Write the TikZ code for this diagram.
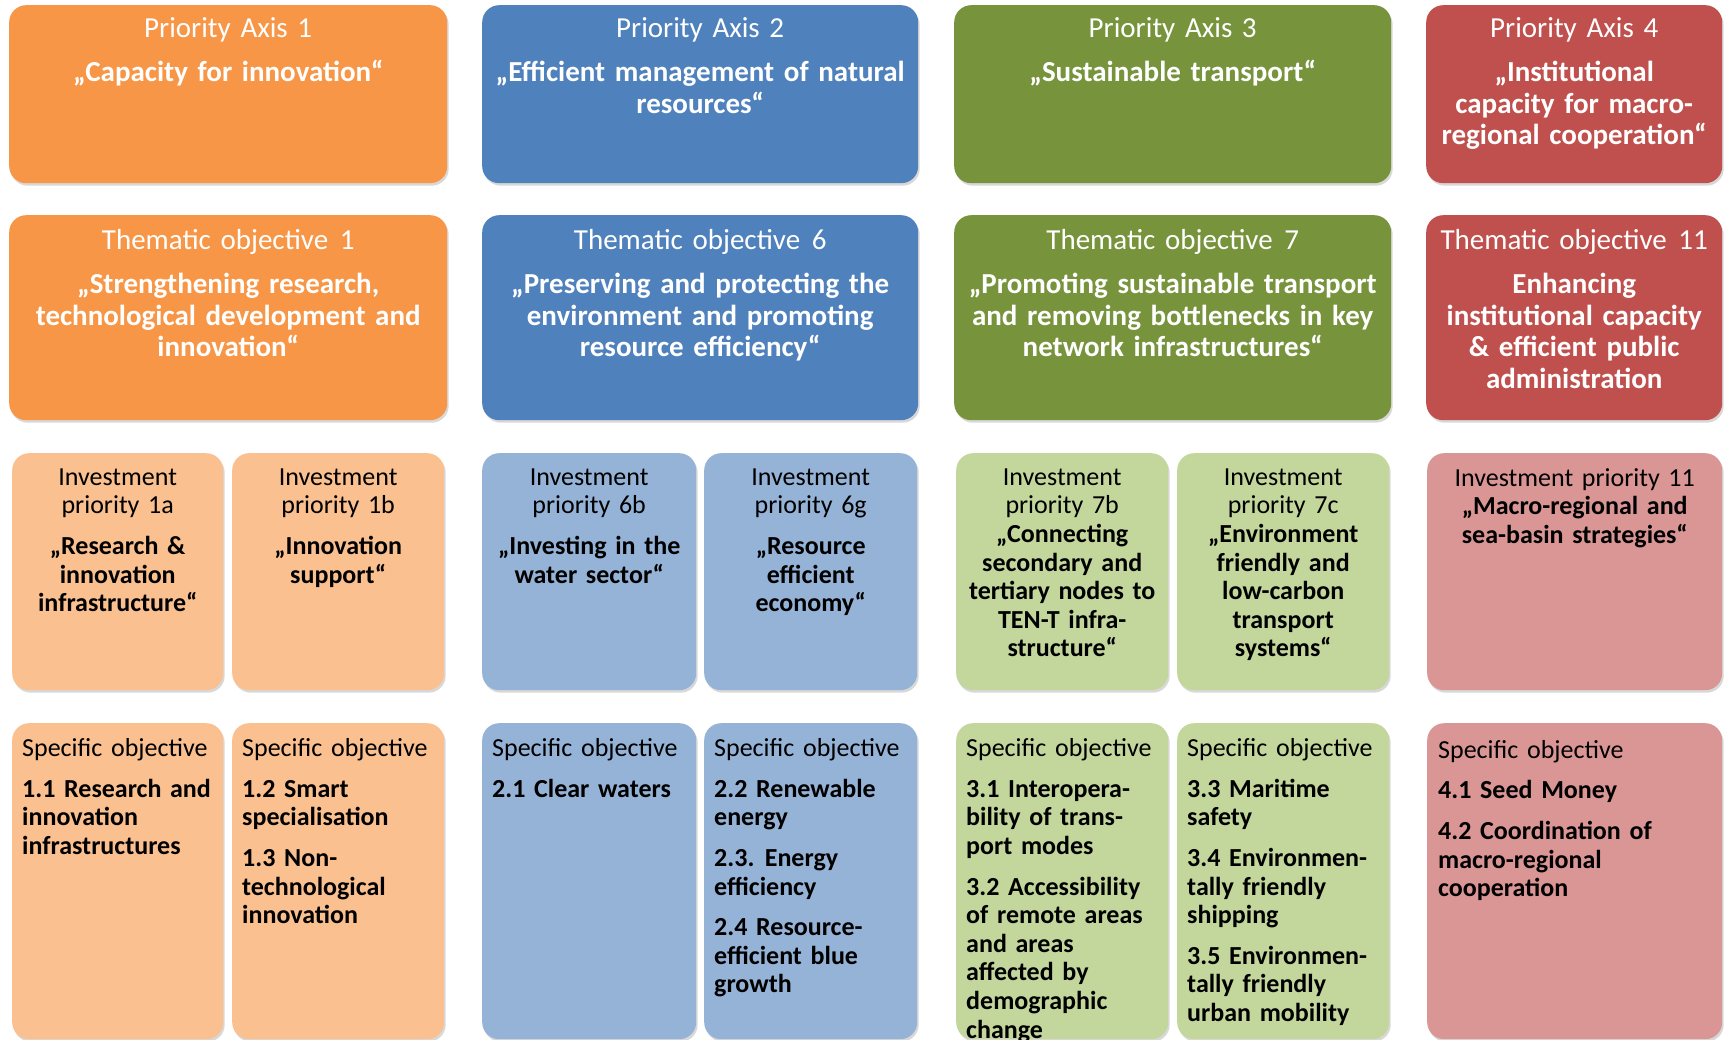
\documentclass[tikz,border=0pt]{standalone}
\usepackage{fontspec}
\setmainfont{Carlito}
\usetikzlibrary{shadows}
\definecolor{orD}{HTML}{F79646}
\definecolor{orL}{HTML}{FAC090}
\definecolor{blD}{HTML}{4F81BD}
\definecolor{blL}{HTML}{95B3D7}
\definecolor{grD}{HTML}{77933C}
\definecolor{grL}{HTML}{C3D69B}
\definecolor{rdD}{HTML}{C0504D}
\definecolor{rdL}{HTML}{D99694}
\newcommand\wsp{\hspace{0.4em}}
\tikzset{
  card/.style={anchor=north west, rounded corners=17pt, inner ysep=0pt,
    drop shadow={shadow xshift=1.5pt, shadow yshift=-2.5pt, opacity=0.3, fill=black!50}},
  dims/.style n args={5}{minimum width=#1pt, minimum height=#2pt, text height=#3pt, text depth=#4pt, text width=#5pt},
  headbox/.style={card, inner xsep=4pt, text=white, align=center, font=\fontsize{29}{31.6}\selectfont},
  ipbox/.style={card, inner xsep=4pt, text=black, align=center, font=\fontsize{26}{28.6}\selectfont},
  sobox/.style={card, inner xsep=10pt, text=black, align=left, font=\fontsize{26}{28.6}\selectfont},
}
\begin{document}
\begin{tikzpicture}[x=1pt,y=-1pt]
\fill[white] (0,0) rectangle (1727,1040);
\useasboundingbox (0,0) rectangle (1727,1040);

% Row 1: priority axes
\node[headbox, fill=orD, dims={438}{178}{32}{146}{430}] (pa1) at (9,5)
  {Priority Axis 1\\[13pt]\bfseries „Capacity for innovation“};
\node[headbox, fill=blD, dims={436}{178}{32}{146}{428}] (pa2) at (482,5)
  {Priority Axis 2\\[13pt]\bfseries „Efficient management of natural\\resources“};
\node[headbox, fill=grD, dims={437}{178}{32}{146}{429}] (pa3) at (954,5)
  {Priority Axis 3\\[13pt]\bfseries „Sustainable transport“};
\node[headbox, fill=rdD, dims={296}{178}{32}{146}{288}] (pa4) at (1426,5)
  {Priority Axis 4\\[13pt]\bfseries „Institutional\\capacity for macro-\\regional cooperation“};

% Row 2: thematic objectives
\node[headbox, fill=orD, dims={438}{205}{34}{171}{430}] (to1) at (9,215)
  {Thematic objective\wsp 1\\[13pt]\bfseries „Strengthening research,\\technological development and\\innovation“};
\node[headbox, fill=blD, dims={436}{205}{34}{171}{428}] (to6) at (482,215)
  {Thematic objective\wsp 6\\[13pt]\bfseries „Preserving and protecting the\\environment and promoting\\resource efficiency“};
\node[headbox, fill=grD, dims={437}{205}{34}{171}{429}] (to7) at (954,215)
  {Thematic objective\wsp 7\\[13pt]\bfseries „Promoting sustainable transport\\and\ removing bottlenecks in key\\network infrastructures“};
\node[headbox, fill=rdD, dims={296}{205}{34}{171}{288}] (to11) at (1426,215)
  {Thematic objective\wsp 11\\[13pt]\bfseries Enhancing\\institutional capacity\\\& efficient public\\administration};

% Row 3: investment priorities
\node[ipbox, fill=orL, dims={211}{237}{32}{205}{203}] (ip1a) at (12,453)
  {Investment\\priority 1a\\[12pt]\bfseries „Research \&\\innovation\\infrastructure“};
\node[ipbox, fill=orL, dims={212}{237}{32}{205}{204}] (ip1b) at (232,453)
  {Investment\\priority 1b\\[12pt]\bfseries „Innovation\\support“};
\node[ipbox, fill=blL, dims={214}{237}{32}{205}{206}] (ip6b) at (482,453)
  {Investment\\priority 6b\\[12pt]\bfseries „Investing in the\\water sector“};
\node[ipbox, fill=blL, dims={213}{237}{32}{205}{205}] (ip6g) at (704,453)
  {Investment\\priority 6g\\[12pt]\bfseries „Resource\\efficient\\economy“};
\node[ipbox, fill=grL, dims={212}{237}{32}{205}{204}] (ip7b) at (956,453)
  {Investment\\priority 7b\\\bfseries „Connecting\\secondary and\\tertiary nodes to\\TEN-T infra-\\structure“};
\node[ipbox, fill=grL, dims={212}{237}{32}{205}{204}] (ip7c) at (1177,453)
  {Investment\\priority 7c\\\bfseries „Environment\\friendly and\\low-carbon\\transport\\systems“};
\node[ipbox, fill=rdL, dims={295}{237}{33}{204}{287}] (ip11) at (1427,453)
  {Investment priority 11\\\bfseries „Macro-regional and\\sea-basin strategies“};

% Row 4: specific objectives
\node[sobox, fill=orL, dims={211}{316}{33.5}{282.5}{191}] (so1a) at (12,723)
  {Specific objective\\[12pt]\bfseries 1.1 Research and\\innovation\\infrastructures};
\node[sobox, fill=orL, dims={212}{316}{33.5}{282.5}{192}] (so1b) at (232,723)
  {Specific objective\\[12pt]\bfseries 1.2 Smart\\specialisation\\[12pt]1.3 Non-\\technological\\innovation};
\node[sobox, fill=blL, dims={214}{316}{33.5}{282.5}{194}] (so6b) at (482,723)
  {Specific objective\\[12pt]\bfseries 2.1 Clear waters};
\node[sobox, fill=blL, dims={213}{316}{33.5}{282.5}{193}] (so6g) at (704,723)
  {Specific objective\\[12pt]\bfseries 2.2 Renewable\\energy\\[12pt]2.3.\wsp Energy\\efficiency\\[12pt]2.4 Resource-\\efficient blue\\growth};
\node[sobox, fill=grL, dims={212}{316}{33.5}{282.5}{192}] (so7b) at (956,723)
  {Specific objective\\[12pt]\bfseries 3.1 Interopera-\\bility of trans-\\port modes\\[12pt]3.2 Accessibility\\of remote areas\\and areas\\affected by\\demographic\\change};
\node[sobox, fill=grL, dims={212}{316}{33.5}{282.5}{192}] (so7c) at (1177,723)
  {Specific objective\\[12pt]\bfseries 3.3 Maritime\\safety\\[12pt]3.4 Environmen-\\tally friendly\\shipping\\[12pt]3.5 Environmen-\\tally friendly\\urban mobility};
\node[sobox, inner xsep=11pt, fill=rdL, dims={295}{316}{35}{281}{273}] (so11) at (1427,723)
  {Specific objective\\[12pt]\bfseries 4.1 Seed Money\\[12pt]4.2 Coordination of\\macro-regional\\cooperation};
\end{tikzpicture}
\end{document}
